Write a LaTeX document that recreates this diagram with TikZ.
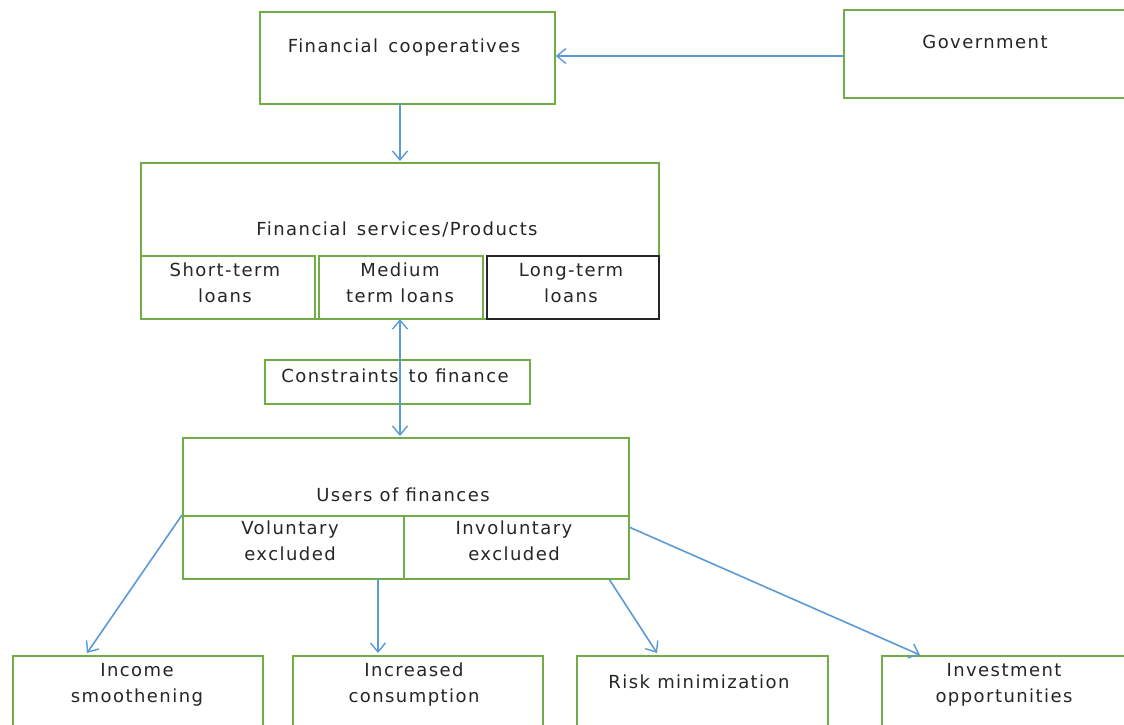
\documentclass[tikz,border=0pt]{standalone}
\usepackage{fontspec}
\setmainfont{DejaVu Sans}[LetterSpace=8]
\usetikzlibrary{arrows.meta}
\definecolor{boxgreen}{RGB}{112,173,71}
\definecolor{arrowblue}{RGB}{91,155,213}
\begin{document}
\begin{tikzpicture}[x=1pt,y=-1pt,
  box/.style={draw=boxgreen,line width=1.8pt,inner sep=0pt,anchor=north west},
  blackbox/.style={draw=black!85,line width=1.8pt,inner sep=0pt,anchor=north west},
  lbl/.style={font=\fontsize{18}{25.5}\selectfont,text=black!85,inner sep=0pt,align=center,anchor=base},
  conn/.style={draw=arrowblue,line width=1.6pt,-{Straight Barb[length=9pt,width=15pt,line width=1.4pt]}},
  conn2/.style={draw=arrowblue,line width=1.6pt,{Straight Barb[length=9pt,width=15pt,line width=1.4pt]}-{Straight Barb[length=9pt,width=15pt,line width=1.4pt]}}
]
\clip (0,0) rectangle (1124,724);
\fill[white] (0,0) rectangle (1124,724);

% top row
\node[box,minimum width=295pt,minimum height=92pt] (coop) at (259,11) {};
\node[lbl] (coopt) at (404,52) {Financial\ \,cooperatives};
\node[box,minimum width=290pt,minimum height=88pt] (gov) at (843,9) {};
\node[lbl] (govt) at (985,48) {Government};

% financial services
\node[box,minimum width=518pt,minimum height=156pt] (fs) at (140,162) {};
\node[lbl] (fst) at (397,235) {Financial\ \,services/Products};
\node[box,minimum width=174pt,minimum height=63pt] (st) at (140,255) {};
\node[box,minimum width=164pt,minimum height=63pt] (mt) at (318,255) {};
\node[blackbox,minimum width=172pt,minimum height=63pt] (lt) at (486,255) {};
\node[lbl] (stt) at (225,302) {Short-term\\loans};
\node[lbl] (mtt) at (400,302) {Medium\\term loans};
\node[lbl] (ltt) at (571,302) {Long-term\\loans};

% constraints
\node[box,minimum width=265pt,minimum height=44pt] (con) at (264,359) {};
\node[lbl] (cont) at (395,382) {Constraints\ \,to finance};

% users of finances
\node[box,minimum width=446pt,minimum height=141pt] (users) at (182,437) {};
\node[lbl] (userst) at (403,501) {Users of finances};
\node[box,minimum width=221pt,minimum height=63pt] (vol) at (182,515) {};
\node[box,minimum width=225pt,minimum height=63pt] (inv) at (403,515) {};
\node[lbl] (volt) at (290,560) {Voluntary\\excluded};
\node[lbl] (invt) at (514,560) {Involuntary\\excluded};

% bottom row
\node[box,minimum width=250pt,minimum height=90pt] (inc) at (12,655) {};
\node[lbl] (inct) at (137,702) {Income\\smoothening};
\node[box,minimum width=250pt,minimum height=90pt] (cons) at (292,655) {};
\node[lbl] (const) at (414,702) {Increased\\consumption};
\node[box,minimum width=251pt,minimum height=90pt] (risk) at (576,655) {};
\node[lbl] (riskt) at (699,688) {Risk minimization};
\node[box,minimum width=260pt,minimum height=90pt] (invest) at (881,655) {};
\node[lbl] (investt) at (1004,702) {Investment\\opportunities};

% anchors for connectors
\coordinate (govw) at (gov.west |- 0,56);
\coordinate (coope) at (coop.east |- 0,56);
\coordinate (coops) at (400,103);
\coordinate (fsn) at (400,161);
\coordinate (mts) at (400,319);
\coordinate (usersn) at (400,436);
\coordinate (volw) at (182,515);
\coordinate (incn) at (87,653);
\coordinate (vols) at (378,578);
\coordinate (consn) at (378,653);
\coordinate (invs) at (609,579);
\coordinate (riskn) at (657,653);
\coordinate (inve) at (629,527);
\coordinate (investn) at (920,655);

\draw[conn] (govw) -- (coope);
\draw[conn] (coops) -- (fsn);
\draw[conn2] (mts) -- (usersn);
\draw[conn] (volw) -- (incn);
\draw[conn] (vols) -- (consn);
\draw[conn] (invs) -- (riskn);
\draw[conn] (inve) -- (investn);
\end{tikzpicture}
\end{document}
